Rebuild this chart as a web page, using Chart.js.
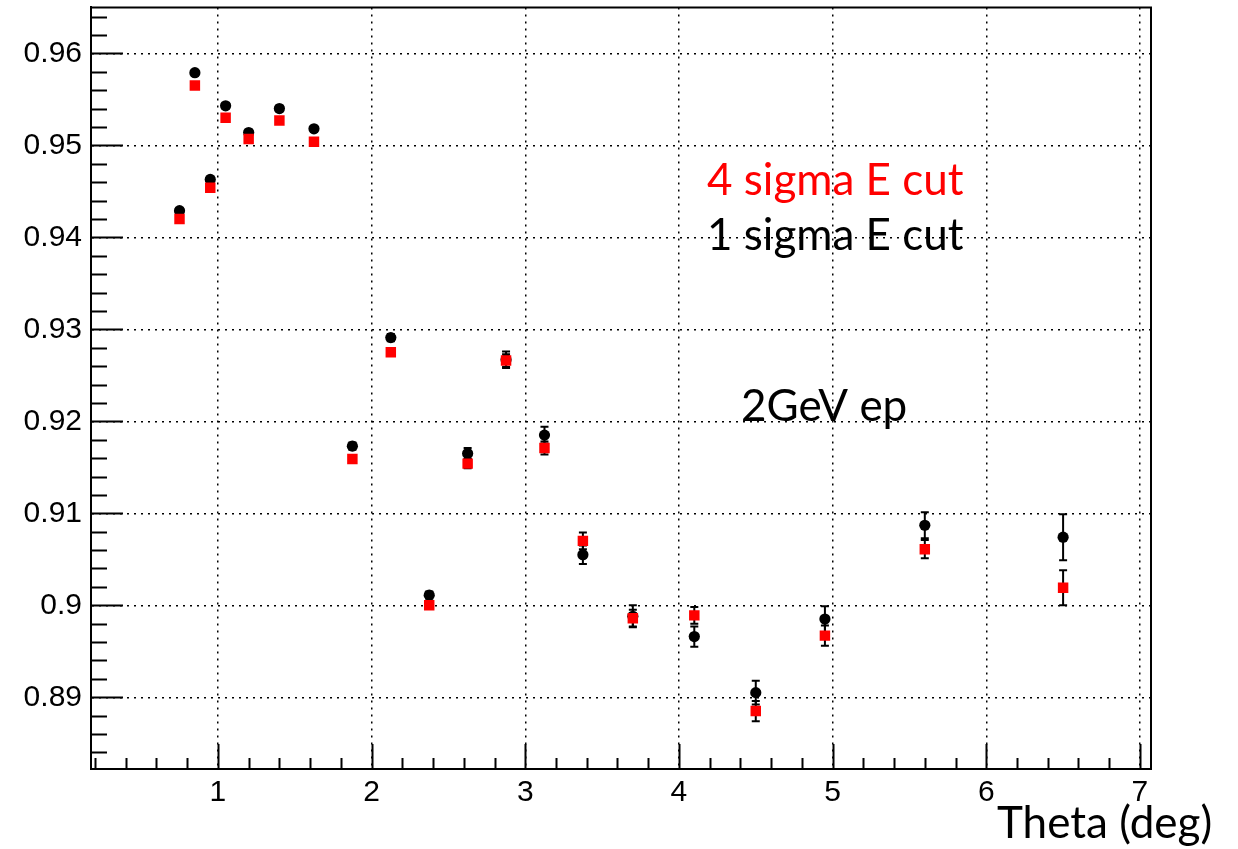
<!DOCTYPE html>
<html>
<head>
<meta charset="utf-8">
<script src="https://cdn.jsdelivr.net/npm/chart.js@4/dist/chart.umd.min.js"></script>
<style>
  body { margin: 0; background: #fff; }
  canvas { display: block; }
</style>
</head>
<body>
<canvas id="effChart" width="1238" height="849"></canvas>
<script>
// theta bins (deg)
const theta = [0.75, 0.85, 0.95, 1.05, 1.2, 1.4, 1.625, 1.875, 2.125, 2.375, 2.625, 2.875, 3.125, 3.375, 3.7, 4.1, 4.5, 4.95, 5.6, 6.5];

// 1 sigma E cut (black circles)
const oneSigma = [0.9429, 0.9579, 0.9463, 0.9543, 0.9514, 0.9540, 0.9518, 0.9173, 0.9291, 0.9011, 0.9165, 0.9267, 0.9185, 0.9055, 0.8988, 0.8966, 0.8905, 0.8985, 0.9087, 0.9074];
const oneSigmaErr = [0.0003, 0.0003, 0.0003, 0.0003, 0.0003, 0.0003, 0.0003, 0.0004, 0.0004, 0.0004, 0.0006, 0.0009, 0.0009, 0.0010, 0.0012, 0.0011, 0.0013, 0.0014, 0.0014, 0.0025];

// 4 sigma E cut (red squares)
const fourSigma = [0.9420, 0.9565, 0.9454, 0.9530, 0.9507, 0.9527, 0.9504, 0.9159, 0.9275, 0.9000, 0.9154, 0.9266, 0.9171, 0.9070, 0.8986, 0.8989, 0.8885, 0.8967, 0.9061, 0.9019];
const fourSigmaErr = [0.0003, 0.0003, 0.0003, 0.0003, 0.0003, 0.0003, 0.0003, 0.0003, 0.0003, 0.0003, 0.0005, 0.0007, 0.0007, 0.0009, 0.0009, 0.0009, 0.0011, 0.0011, 0.0010, 0.0019];

const xTicks = [1, 2, 3, 4, 5, 6, 7];
const yTicks = [0.89, 0.90, 0.91, 0.92, 0.93, 0.94, 0.95, 0.96];
const yTickLabels = ['0.89', '0.9', '0.91', '0.92', '0.93', '0.94', '0.95', '0.96'];

const xMinorStep = 0.2;
const yMinorStep = 0.002;

const toPoints = (ys, errs) => theta.map((x, i) => ({ x: x, y: ys[i], err: errs[i] }));

// ROOT style frame: inner ticks, top/right border, error bars, text
const rootFrame = {
    id: 'rootFrame',
    beforeDatasetsDraw(chart) {
        const { ctx, scales: { x, y } } = chart;
        ctx.save();
        ctx.strokeStyle = '#000';
        ctx.lineWidth = 2;
        chart.data.datasets.forEach(ds => {
            ds.data.forEach(p => {
                const px = x.getPixelForValue(p.x);
                const top = y.getPixelForValue(p.y + p.err);
                const bot = y.getPixelForValue(p.y - p.err);
                ctx.beginPath();
                ctx.moveTo(px, top); ctx.lineTo(px, bot);
                ctx.moveTo(px - 4, top); ctx.lineTo(px + 4, top);
                ctx.moveTo(px - 4, bot); ctx.lineTo(px + 4, bot);
                ctx.stroke();
            });
        });
        ctx.restore();
    },
    afterDraw(chart) {
        const { ctx, chartArea: a, scales: { x, y } } = chart;
        ctx.save();
        ctx.strokeStyle = '#000';
        ctx.lineWidth = 2;
        ctx.beginPath();
        ctx.rect(a.left, a.top, a.right - a.left, a.bottom - a.top);
        ctx.stroke();

        // y ticks
        ctx.beginPath();
        for (let v = Math.ceil(y.min / yMinorStep) * yMinorStep; v <= y.max; v += yMinorStep) {
            const py = Math.round(y.getPixelForValue(v)) + 0.5;
            const major = Math.abs(v / 0.01 - Math.round(v / 0.01)) < 1e-6;
            ctx.moveTo(a.left, py);
            ctx.lineTo(a.left + (major ? 32 : 16), py);
        }
        // x ticks
        for (let v = Math.ceil(x.min / xMinorStep) * xMinorStep; v <= x.max; v += xMinorStep) {
            const px = Math.round(x.getPixelForValue(v)) + 0.5;
            const major = Math.abs(v - Math.round(v)) < 1e-6;
            ctx.moveTo(px, a.bottom);
            ctx.lineTo(px, a.bottom - (major ? 25 : 11));
        }
        ctx.stroke();

        // labels
        ctx.textBaseline = 'alphabetic';
        ctx.textAlign = 'left';
        ctx.font = '44px Lato';
        ctx.fillStyle = '#ff0000';
        ctx.fillText('4 sigma E cut', 707, 195);
        ctx.fillStyle = '#000';
        ctx.fillText('1 sigma E cut', 707, 250);
        ctx.fillText('2GeV ep', 741, 421);
        ctx.fillText('Theta (deg)', 997, 838);
        ctx.restore();
    }
};

new Chart(document.getElementById('effChart'), {
    type: 'scatter',
    data: {
        datasets: [
            {
                label: '4 sigma E cut',
                data: toPoints(fourSigma, fourSigmaErr),
                pointStyle: 'rect',
                pointRadius: 7.4,
                backgroundColor: '#ff0000',
                borderColor: '#ff0000',
                borderWidth: 0
            },
            {
                label: '1 sigma E cut',
                data: toPoints(oneSigma, oneSigmaErr),
                pointStyle: 'circle',
                pointRadius: 5.6,
                backgroundColor: '#000',
                borderColor: '#000',
                borderWidth: 0
            }
        ]
    },
    options: {
        responsive: false,
        animation: false,
        events: [],
        layout: { padding: { top: 6, right: 87, left: 0, bottom: 0 } },
        plugins: { legend: { display: false }, tooltip: { enabled: false } },
        scales: {
            x: {
                type: 'linear',
                min: 0.174,
                max: 7.072,
                afterBuildTicks: s => { s.ticks = xTicks.map(v => ({ value: v })); },
                afterFit: s => { s.height = 80; s.paddingLeft = 0; s.paddingRight = 0; },
                grid: { color: '#000', lineWidth: 1.5, drawTicks: false },
                border: { color: '#000', width: 2, dash: [2, 5] },
                ticks: {
                    color: '#000',
                    padding: 6,
                    maxRotation: 0,
                    font: { family: 'Liberation Sans', size: 30 },
                    callback: v => String(v)
                }
            },
            y: {
                type: 'linear',
                min: 0.8822,
                max: 0.965,
                afterBuildTicks: s => { s.ticks = yTicks.map(v => ({ value: v })); },
                afterFit: s => { s.width = 91; s.paddingTop = 0; s.paddingBottom = 0; },
                grid: { color: '#000', lineWidth: 1.5, drawTicks: false },
                border: { color: '#000', width: 2, dash: [2, 5] },
                ticks: {
                    color: '#000',
                    padding: 9,
                    font: { family: 'Liberation Sans', size: 30 },
                    callback: v => yTickLabels[yTicks.findIndex(t => Math.abs(t - v) < 1e-9)]
                }
            }
        }
    },
    plugins: [rootFrame]
});
</script>
</body>
</html>
